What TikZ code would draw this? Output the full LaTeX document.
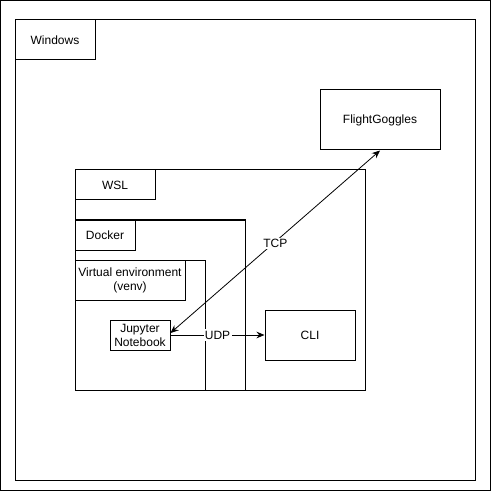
\documentclass[tikz,border=0pt]{standalone}
\usepackage{fontspec}
\setmainfont{Liberation Sans}
\usetikzlibrary{arrows.meta}
\newcommand{\pbox}[7][]{%
  \node[box,#1,minimum width=#5*0.75pt,minimum height=#6*0.75pt] (#2) at (#3+#5/2,#4+#6/2) {#7};}
\begin{document}
\begin{tikzpicture}[x=0.75pt,y=-0.75pt,
  box/.style={draw=black,line width=0.75pt,inner sep=0pt,align=center,font=\fontsize{9pt}{10.5pt}\selectfont},
  conn/.style={line width=0.6pt,{Stealth[length=6pt,width=5pt]}-{Stealth[length=6pt,width=5pt]}},
  conn1/.style={line width=0.75pt,-{Stealth[length=6pt,width=5pt]}},
  lbl/.style={fill=white,inner sep=1pt,font=\fontsize{9pt}{10.5pt}\selectfont}]
\useasboundingbox (0,0) rectangle (491,491);
\node[draw=black,line width=0.75pt,minimum width=490*0.75pt,minimum height=490*0.75pt,inner sep=0pt] (frame) at (245.5,245.5) {};
\pbox{win}{15}{20}{460}{460}{}
\pbox{wsl}{75}{170}{290}{220}{}
\pbox{docker}{75}{220}{170}{170}{}
\pbox{venv}{75}{260}{130}{130}{}
\pbox{winl}{15}{20}{80}{40}{Windows}
\pbox{wsll}{75}{170}{80}{30}{WSL}
\pbox{dockerl}{75}{220}{60}{30}{Docker}
\pbox{venvl}{75}{260}{110}{40}{Virtual environment\\(venv)}
\pbox[fill=white]{jup}{110}{320}{60}{30}{Jupyter\\Notebook}
\pbox{cli}{265}{310}{90}{50}{CLI}
\pbox{fg}{320}{90}{120}{60}{FlightGoggles}
\draw[conn] ([yshift=1.5pt]jup.east) -- node[lbl,pos=0.5,yshift=-1.5pt]{TCP} (fg.south);
\draw[conn1] (jup.east) -- node[lbl,pos=0.5]{UDP} (cli.west);
\end{tikzpicture}
\end{document}
